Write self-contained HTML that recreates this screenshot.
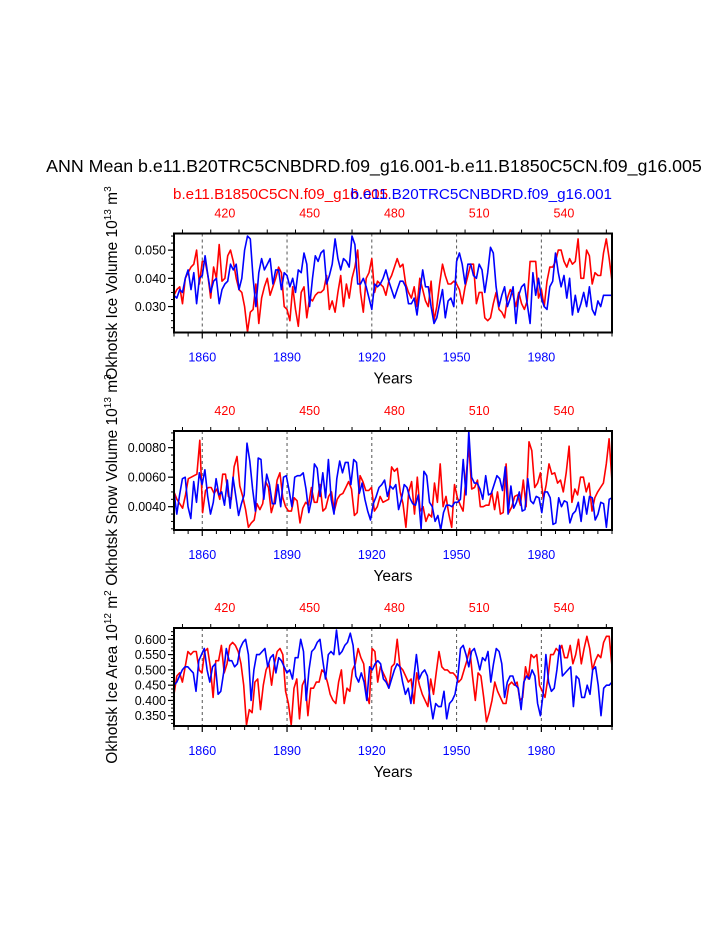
<!DOCTYPE html>
<html><head><meta charset="utf-8">
<style>
body{margin:0;background:#fff;}
svg{display:block;font-family:"Liberation Sans",Arial,sans-serif;}
</style></head>
<body>
<svg id="chart" width="723" height="935" viewBox="0 0 723 935">
<text x="374" y="172" font-size="17.8" text-anchor="middle">ANN Mean b.e11.B20TRC5CNBDRD.f09_g16.001-b.e11.B1850C5CN.f09_g16.005</text>
<text x="173" y="199" font-size="15.2" fill="#ff0000">b.e11.B1850C5CN.f09_g16.005</text>
<text x="612" y="199" font-size="15.2" fill="#0000ff" text-anchor="end">b.e11.B20TRC5CNBDRD.f09_g16.001</text>
</svg>
<script>
const startYear = 1850, endYear = 2005, redOffset = 1448;
const bottomTicks = [1860, 1890, 1920, 1950, 1980];
const topTicks = [420, 450, 480, 510, 540];

const iceVolBlue = [.034,.033,.036,.035,.040,.043,.036,.042,.031,.040,.041,.048,.041,.035,.039,.040,.031,.036,.038,.039,.045,.043,.045,.036,.040,.050,.055,.054,.040,.030,.042,.047,.043,.045,.047,.038,.043,.043,.036,.042,.041,.037,.040,.035,.043,.042,.049,.045,.030,.040,.048,.046,.049,.050,.038,.041,.045,.054,.047,.043,.047,.046,.044,.055,.052,.038,.038,.040,.037,.033,.029,.038,.037,.038,.040,.043,.039,.036,.033,.036,.039,.039,.037,.031,.031,.033,.027,.035,.043,.037,.037,.030,.024,.026,.031,.036,.026,.032,.033,.030,.046,.049,.045,.038,.045,.045,.041,.040,.045,.043,.035,.042,.051,.049,.037,.030,.034,.037,.030,.033,.037,.024,.034,.037,.038,.031,.024,.042,.034,.040,.033,.030,.029,.037,.039,.049,.042,.037,.041,.033,.040,.027,.034,.028,.031,.035,.030,.037,.029,.027,.032,.030,.034,.034,.034,.034];
const iceVolRed = [.034,.036,.037,.031,.040,.042,.044,.045,.050,.038,.046,.046,.041,.033,.044,.040,.052,.039,.040,.048,.050,.046,.040,.036,.035,.030,.021,.028,.029,.038,.024,.033,.037,.040,.034,.037,.040,.044,.042,.030,.029,.025,.037,.029,.023,.035,.037,.026,.033,.032,.034,.035,.035,.036,.041,.029,.032,.028,.035,.041,.030,.038,.033,.040,.044,.050,.035,.028,.040,.042,.047,.035,.039,.038,.037,.034,.039,.041,.044,.047,.044,.045,.038,.035,.033,.037,.030,.040,.036,.032,.030,.039,.025,.030,.038,.045,.041,.038,.038,.039,.038,.036,.031,.037,.041,.045,.045,.031,.035,.035,.026,.025,.026,.031,.035,.029,.028,.026,.033,.036,.034,.030,.035,.031,.029,.032,.046,.046,.046,.033,.036,.030,.039,.044,.044,.046,.050,.050,.046,.044,.047,.045,.046,.054,.040,.040,.050,.048,.038,.042,.041,.041,.049,.054,.047,.039];
const snowBlue = [.0050,.0035,.0048,.0059,.0060,.0040,.0032,.0057,.0043,.0063,.0055,.0065,.0047,.0035,.0043,.0059,.0048,.0050,.0041,.0058,.0039,.0060,.0047,.0034,.0042,.0048,.0083,.0071,.0052,.0037,.0073,.0072,.0045,.0062,.0055,.0042,.0042,.0055,.0040,.0060,.0061,.0051,.0040,.0060,.0061,.0061,.0063,.0052,.0036,.0045,.0069,.0066,.0047,.0063,.0046,.0072,.0045,.0035,.0059,.0071,.0063,.0070,.0070,.0055,.0072,.0070,.0049,.0056,.0045,.0037,.0031,.0042,.0047,.0053,.0055,.0058,.0047,.0054,.0052,.0055,.0038,.0045,.0055,.0053,.0046,.0042,.0041,.0048,.0025,.0064,.0061,.0043,.0040,.0030,.0034,.0024,.0036,.0041,.0041,.0040,.0043,.0043,.0045,.0072,.0048,.0091,.0060,.0056,.0056,.0052,.0045,.0061,.0048,.0049,.0055,.0061,.0059,.0051,.0067,.0035,.0054,.0039,.0043,.0050,.0037,.0038,.0059,.0044,.0042,.0047,.0046,.0036,.0050,.0050,.0046,.0028,.0029,.0046,.0040,.0044,.0043,.0029,.0035,.0037,.0043,.0030,.0047,.0035,.0047,.0046,.0031,.0035,.0043,.0042,.0026,.0045,.0046];
const snowRed = [.0050,.0045,.0042,.0039,.0048,.0059,.0060,.0061,.0062,.0085,.0036,.0051,.0053,.0053,.0049,.0052,.0045,.0062,.0062,.0047,.0045,.0067,.0074,.0054,.0047,.0038,.0026,.0029,.0031,.0042,.0038,.0042,.0057,.0053,.0036,.0043,.0058,.0063,.0046,.0040,.0037,.0037,.0046,.0044,.0029,.0039,.0043,.0041,.0053,.0043,.0043,.0055,.0037,.0039,.0047,.0050,.0037,.0045,.0048,.0049,.0053,.0057,.0052,.0034,.0036,.0061,.0057,.0051,.0051,.0053,.0037,.0040,.0047,.0043,.0044,.0045,.0067,.0064,.0066,.0050,.0042,.0026,.0050,.0057,.0035,.0060,.0037,.0040,.0030,.0035,.0033,.0056,.0043,.0069,.0040,.0047,.0035,.0026,.0055,.0046,.0041,.0037,.0060,.0081,.0052,.0053,.0058,.0040,.0040,.0041,.0041,.0050,.0038,.0050,.0035,.0036,.0069,.0036,.0040,.0047,.0048,.0041,.0058,.0040,.0084,.0078,.0053,.0056,.0063,.0045,.0055,.0069,.0062,.0063,.0056,.0058,.0050,.0063,.0081,.0043,.0052,.0048,.0060,.0060,.0050,.0056,.0037,.0046,.0050,.0053,.0056,.0069,.0086,.0057];
const areaBlue = [.45,.46,.48,.50,.51,.51,.50,.49,.43,.53,.55,.57,.50,.46,.51,.52,.42,.43,.49,.57,.53,.53,.51,.52,.57,.59,.60,.55,.40,.50,.55,.55,.56,.57,.51,.54,.55,.49,.54,.53,.51,.49,.50,.47,.54,.54,.60,.56,.40,.50,.56,.57,.59,.60,.53,.47,.55,.56,.55,.63,.55,.56,.58,.59,.62,.58,.48,.46,.49,.46,.40,.51,.50,.52,.53,.52,.47,.46,.44,.47,.50,.52,.51,.46,.42,.44,.39,.47,.55,.47,.49,.50,.48,.40,.34,.39,.38,.38,.43,.34,.39,.40,.42,.47,.57,.58,.55,.51,.56,.57,.54,.50,.54,.53,.56,.46,.52,.57,.56,.52,.41,.46,.48,.48,.45,.44,.37,.46,.48,.47,.50,.48,.39,.35,.42,.55,.46,.43,.44,.50,.58,.48,.49,.50,.51,.38,.48,.47,.41,.41,.45,.42,.50,.51,.45,.35,.44,.45,.45,.46];
const areaRed = [.42,.48,.49,.46,.51,.56,.55,.56,.56,.50,.49,.56,.57,.51,.41,.53,.53,.58,.49,.52,.58,.59,.58,.56,.52,.45,.32,.37,.36,.46,.47,.37,.45,.50,.52,.45,.52,.56,.57,.55,.43,.39,.32,.44,.47,.34,.45,.47,.35,.44,.44,.46,.46,.50,.49,.46,.42,.40,.39,.46,.50,.39,.44,.43,.50,.52,.57,.54,.52,.42,.39,.57,.56,.46,.51,.49,.47,.44,.51,.52,.60,.51,.50,.48,.46,.47,.39,.49,.45,.42,.40,.38,.47,.42,.49,.56,.51,.50,.50,.49,.49,.48,.46,.47,.50,.53,.57,.48,.40,.49,.48,.41,.33,.36,.40,.46,.43,.41,.39,.39,.45,.46,.45,.46,.40,.41,.51,.47,.55,.54,.55,.45,.43,.41,.47,.55,.55,.57,.56,.58,.54,.54,.58,.52,.55,.60,.52,.57,.61,.57,.50,.53,.55,.54,.59,.61,.61,.51];

const volTicks = [0.030, 0.040, 0.050];
const snowTicks = [0.0040, 0.0060, 0.0080];
const areaTicks = [0.350, 0.400, 0.450, 0.500, 0.550, 0.600];

const NS = "http://www.w3.org/2000/svg";
const svg = document.getElementById('chart');
function mk(tag, attrs, parent){const e=document.createElementNS(NS,tag);for(const k in attrs)e.setAttribute(k,attrs[k]);(parent||svg).appendChild(e);return e;}

const X0 = 174, X1 = 612;
function xs(yr){return X0 + (yr-startYear)*(X1-X0)/(endYear-startYear);}

const panels = [
 {key:'ice-volume', top:233.5, bot:332.5, ymin:0.0208, ymax:0.0559, ticks:volTicks, minor:0.0025, dec:3, blue:iceVolBlue, red:iceVolRed, label:['Okhotsk Ice Volume 10','13',' m','3'], labelY:283},
 {key:'snow-volume', top:431, bot:530, ymin:0.00242, ymax:0.00913, ticks:snowTicks, minor:0.0005, dec:4, blue:snowBlue, red:snowRed, label:['Okhotsk Snow Volume 10','13',' m','3'], labelY:480},
 {key:'ice-area', top:628, bot:726, ymin:0.3164, ymax:0.637, ticks:areaTicks, minor:0.0125, dec:3, blue:areaBlue, red:areaRed, label:['Okhotsk Ice Area 10','12',' m','2'], labelY:677}
];

panels.forEach(p=>{
  const g = mk('g',{});
  
  
  const ys = v => p.bot - (v-p.ymin)/(p.ymax-p.ymin)*(p.bot-p.top);
  bottomTicks.forEach(t=>{
    const l = mk('line',{x1:xs(t),x2:xs(t),y1:p.top,y2:p.bot,stroke:'#555','stroke-width':1,'stroke-dasharray':'3,3'},g);
    
    
  });
  [['red',p.red,'#ff0000'],['blue',p.blue,'#0000ff']].forEach(([nm,arr,col])=>{
    const n = arr.length;
    const pts = arr.map((v,i)=>xs(startYear + i*(endYear-startYear)/(n-1)).toFixed(1)+','+ys(Math.max(p.ymin,Math.min(p.ymax,v))).toFixed(1)).join(' ');
    const pl = mk('polyline',{points:pts,fill:'none',stroke:col,'stroke-width':1.6,'stroke-linejoin':'round'},g);
    
    
  });
  const fr = mk('rect',{x:X0,y:p.top,width:X1-X0,height:p.bot-p.top,fill:'none',stroke:'#000','stroke-width':2},g);
  
  
  for(let v=Math.ceil(p.ymin/p.minor)*p.minor; v<=p.ymax; v+=p.minor){
    mk('line',{x1:X0-3,x2:X0,y1:ys(v),y2:ys(v),stroke:'#000','stroke-width':1},g);
  }
  p.ticks.forEach(v=>{
    mk('line',{x1:X0-6,x2:X0,y1:ys(v),y2:ys(v),stroke:'#000','stroke-width':1.2},g);
    const t = mk('text',{x:X0-8,y:ys(v)+4.5,'font-size':12.5,'text-anchor':'end'},g);
    t.textContent = v.toFixed(p.dec);
    
    
  });
  for(let yr=1850; yr<=endYear; yr+=5){
    const maj = bottomTicks.includes(yr);
    mk('line',{x1:xs(yr),x2:xs(yr),y1:p.bot,y2:p.bot+(maj?6:4),stroke:'#000','stroke-width':maj?1.2:1},g);
  }
  bottomTicks.forEach(yr=>{
    const t = mk('text',{x:xs(yr),y:p.bot+29,'font-size':12.5,'text-anchor':'middle',fill:'#0000ff'},g);
    t.textContent = yr;
    
    
  });
  for(let r=405; r<=555; r+=10){
    const maj = topTicks.includes(r);
    mk('line',{x1:xs(r+redOffset),x2:xs(r+redOffset),y1:p.top,y2:p.top-(maj?7:4),stroke:'#000','stroke-width':maj?1.5:1},g);
  }
  topTicks.forEach(r=>{
    const t = mk('text',{x:xs(r+redOffset),y:p.top-16,'font-size':12.5,'text-anchor':'middle',fill:'#ff0000'},g);
    t.textContent = r;
    
    
  });
  const xt = mk('text',{x:(X0+X1)/2,y:p.bot+51,'font-size':15.5,'text-anchor':'middle'},g);
  xt.textContent = 'Years';
  
  
  const yt = mk('text',{x:0,y:0,'font-size':15.5,'text-anchor':'middle',transform:`translate(117,${p.labelY}) rotate(-90)`},g);
  
  
  const a = mk('tspan',{},yt); a.textContent = p.label[0];
  const b = mk('tspan',{dy:-6,'font-size':10},yt); b.textContent = p.label[1];
  const c = mk('tspan',{dy:6},yt); c.textContent = p.label[2];
  const d = mk('tspan',{dy:-6,'font-size':10},yt); d.textContent = p.label[3];
});
</script>
</body></html>
